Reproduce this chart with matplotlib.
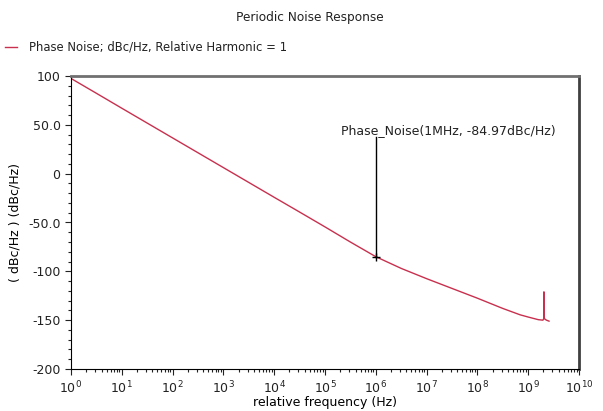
import numpy as np
import matplotlib as mpl
mpl.use('Agg')
import matplotlib.pyplot as plt
from matplotlib.ticker import LogLocator, MultipleLocator, FixedFormatter, FixedLocator

# phase noise curve (log10 of frequency, dBc/Hz)
log_freq = [0.0, 0.5, 1.0, 1.5, 2.0, 2.5, 3.0, 3.5, 4.0, 4.5, 5.0, 5.5, 6.0,
            6.5, 7.0, 7.5, 8.0, 8.5, 8.84, 9.0, 9.2, 9.29, 9.305, 9.31, 9.315, 9.33, 9.36, 9.41]
noise = [97.5, 82.3, 67, 51.8, 36.6, 21.4, 6.2, -9, -24.2, -39.3, -54.5, -70, -85,
         -97, -107.5, -117.5, -127.5, -138, -144.5, -146.8, -149.5, -150, -148.5, -121, -147.5, -149, -150, -151]

marker_f = 1e6
marker_v = -84.97
marker_label = 'Phase_Noise(1MHz, -84.97dBc/Hz)'
yticks = [100, 50, 0, -50, -100, -150, -200]
ytick_labels = ['100', '50.0', '0', '-50.0', '-100', '-150', '-200']

line_color = '#c8304e'

plt.rcParams['font.family'] = 'DejaVu Sans'
fig = plt.figure(figsize=(6.03, 4.11), dpi=100)
ax = fig.add_axes([71/603, 42/411, (579-71)/603, (369-76)/411])

freq = 10 ** np.array(log_freq)
ax.plot(freq, noise, color=line_color, lw=1)

ax.set_xscale('log')
ax.set_xlim(1, 1e10)
ax.set_ylim(-200, 100)
ax.xaxis.set_major_locator(LogLocator(base=10, numticks=12))
ax.xaxis.set_minor_locator(LogLocator(base=10, subs=np.arange(2, 10), numticks=12))
ax.yaxis.set_major_locator(FixedLocator(yticks))
ax.yaxis.set_major_formatter(FixedFormatter(ytick_labels))
ax.yaxis.set_minor_locator(MultipleLocator(10))

ax.tick_params(which='both', direction='out', top=False, right=False, labelsize=9, colors='#222222')
ax.tick_params(which='major', length=4, width=0.8)
ax.tick_params(which='minor', length=2, width=0.8)

for s in ['left', 'bottom']:
    ax.spines[s].set_color('black')
    ax.spines[s].set_linewidth(0.8)
ax.spines['top'].set_color('#707070')
ax.spines['top'].set_linewidth(2)
ax.spines['right'].set_color('#404040')
ax.spines['right'].set_linewidth(2)

# marker annotation
ax.plot([marker_f, marker_f], [marker_v, 38], color='black', lw=1)
ax.plot([marker_f], [marker_v], marker='+', color='black', ms=6, mew=1)
ax.text(10 ** 5.315, 43.7, marker_label, fontsize=9, color='#222222', va='center')

ax.set_xlabel('relative frequency (Hz)', fontsize=9, labelpad=0)
ax.set_ylabel('( dBc/Hz ) (dBc/Hz)', fontsize=9, labelpad=5)

fig.text(310/603, 1 - 17/411, 'Periodic Noise Response', ha='center', va='center', fontsize=8.7, color='#222222')
fig.lines.append(plt.Line2D([5/603, 17/603], [1 - 47/411, 1 - 47/411], color=line_color, lw=1, transform=fig.transFigure))
fig.text(29/603, 1 - 47/411, 'Phase Noise; dBc/Hz, Relative Harmonic = 1', ha='left', va='center', fontsize=8.4, color='#222222')

plt.savefig('out.png', dpi=100)
